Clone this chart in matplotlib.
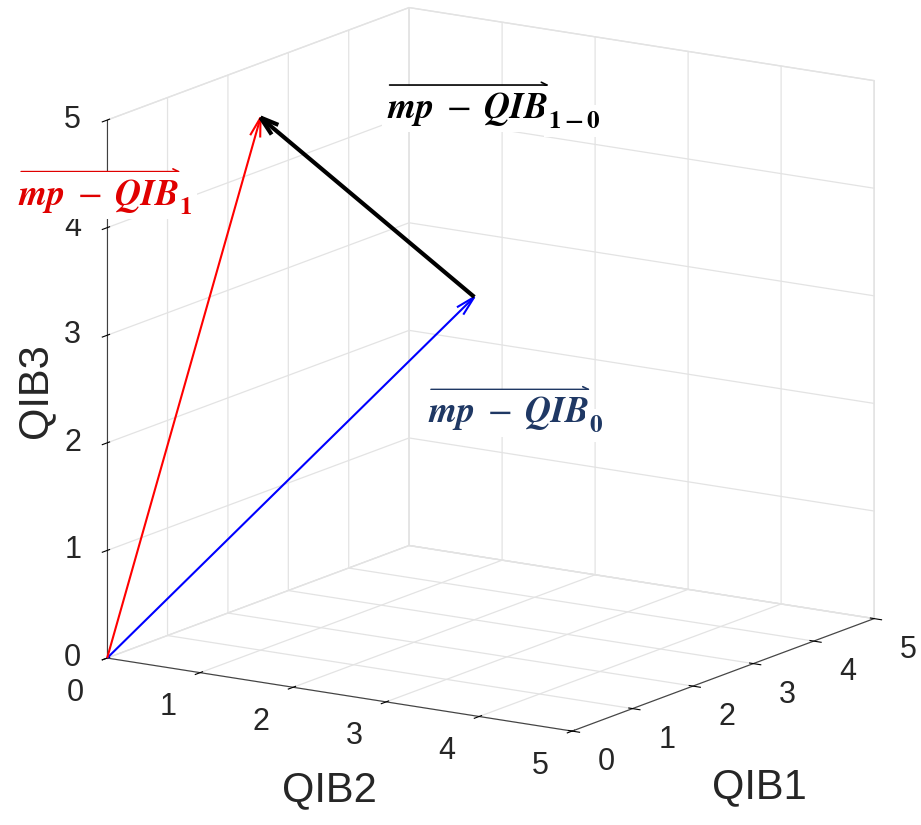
import numpy as np
import matplotlib.pyplot as plt
from matplotlib.patches import FancyArrowPatch
from mpl_toolkits.mplot3d import proj3d

plt.rcParams['font.family'] = ['Liberation Sans', 'DejaVu Sans']
plt.rcParams['mathtext.fontset'] = 'stix'

# vectors (QIB1, QIB2, QIB3)
qib0 = [3, 2, 3]
qib1 = [1, 1, 4.95]
ticks = [0, 1, 2, 3, 4, 5]

fig = plt.figure(figsize=(9.21, 8.25), dpi=100)
ax = fig.add_axes([0.0206, 0.0388, 1.0, 1.0], projection='3d')
ax.set_proj_type('ortho')
ax.view_init(elev=14, azim=-57)
ax.set_box_aspect((1, 1, 1), zoom=1.13)

# x = QIB2, y = QIB1, z = QIB3
ax.quiver(0, 0, 0, qib1[1], qib1[0], qib1[2], color='#ff0000', linewidth=1.5,
          arrow_length_ratio=0.036)
ax.quiver(0, 0, 0, qib0[1], qib0[0], qib0[2], color='#0000ff', linewidth=1.5,
          arrow_length_ratio=0.04)
ax.quiver(qib0[1], qib0[0], qib0[2], qib1[1] - qib0[1], qib1[0] - qib0[0],
          qib1[2] - qib0[2], color='black', linewidth=3, arrow_length_ratio=0.07)

ax.set_xlim(0, 5)
ax.set_ylim(0, 5)
ax.set_zlim(0, 5)
ax.set_xticks(ticks)
ax.set_yticks(ticks)
ax.set_zticks(ticks)
ax.set_xticklabels([])
ax.set_yticklabels([])
ax.set_zticklabels([])
for a in (ax.xaxis, ax.yaxis, ax.zaxis):
    a.set_pane_color((1, 1, 1, 1))
    a.pane.set_edgecolor('#e3e3e3')
    a._axinfo['grid']['color'] = '#e3e3e3'
    a._axinfo['grid']['linewidth'] = 0.9
    a._axinfo['axisline']['color'] = '#262626'
    a._axinfo['tick']['color'] = '#262626'
    a.line.set_color('#404040')
ax.zaxis.set_ticks_position('lower')

# tick labels placed like matlab: offset in data space, projected to 2D
fig.canvas.draw()
def put_tick(x, y, z, s):
    px, py, _ = proj3d.proj_transform(x, y, z, ax.M)
    fx, fy = fig.transFigure.inverted().transform(ax.transData.transform((px, py)))
    fig.text(fx, fy, s, fontsize=22, color='#262626', ha='center', va='center')

for v in ticks:
    put_tick(v, -0.53, -0.21, str(v))      # QIB2
    put_tick(5.37, v, -0.24, str(v))       # QIB1
    put_tick(-0.26, -0.17, v, str(v))      # QIB3

# axis labels
fig.text(0.358, 0.042, 'QIB2', fontsize=30, color='#262626', ha='center', va='center')
fig.text(0.825, 0.046, 'QIB1', fontsize=30, color='#262626', ha='center', va='center')
fig.text(0.038, 0.527, 'QIB3', fontsize=30, color='#262626', ha='center', va='center',
         rotation=90)

# vector labels: text + arrow drawn over the "mp - QIB" part
def vec_label(x, y, sub, color):
    box = dict(facecolor='white', edgecolor='none', pad=3)
    t = fig.text(x, y, r'$\mathbfit{mp}\;-\;\mathbfit{QIB}$', fontsize=26,
                 color=color, ha='left', va='baseline', bbox=box)
    r = fig.canvas.get_renderer()
    bb = t.get_window_extent(r).transformed(fig.transFigure.inverted())
    fig.text(bb.x1, y - 0.012, r'$\mathbf{' + sub + '}$', fontsize=18, color=color,
             ha='left', va='baseline', bbox=box)
    ya = bb.y1 + 0.006
    fig.add_artist(FancyArrowPatch(
        (bb.x0, ya), (bb.x1 + 0.004, ya), transform=fig.transFigure,
        arrowstyle='->', mutation_scale=10, color=color, linewidth=1.2))

vec_label(0.02, 0.752, '1', '#e00000')
vec_label(0.42, 0.857, '1-0', 'black')
vec_label(0.465, 0.488, '0', '#1f3864')

fig.savefig('out.png', dpi=100)
